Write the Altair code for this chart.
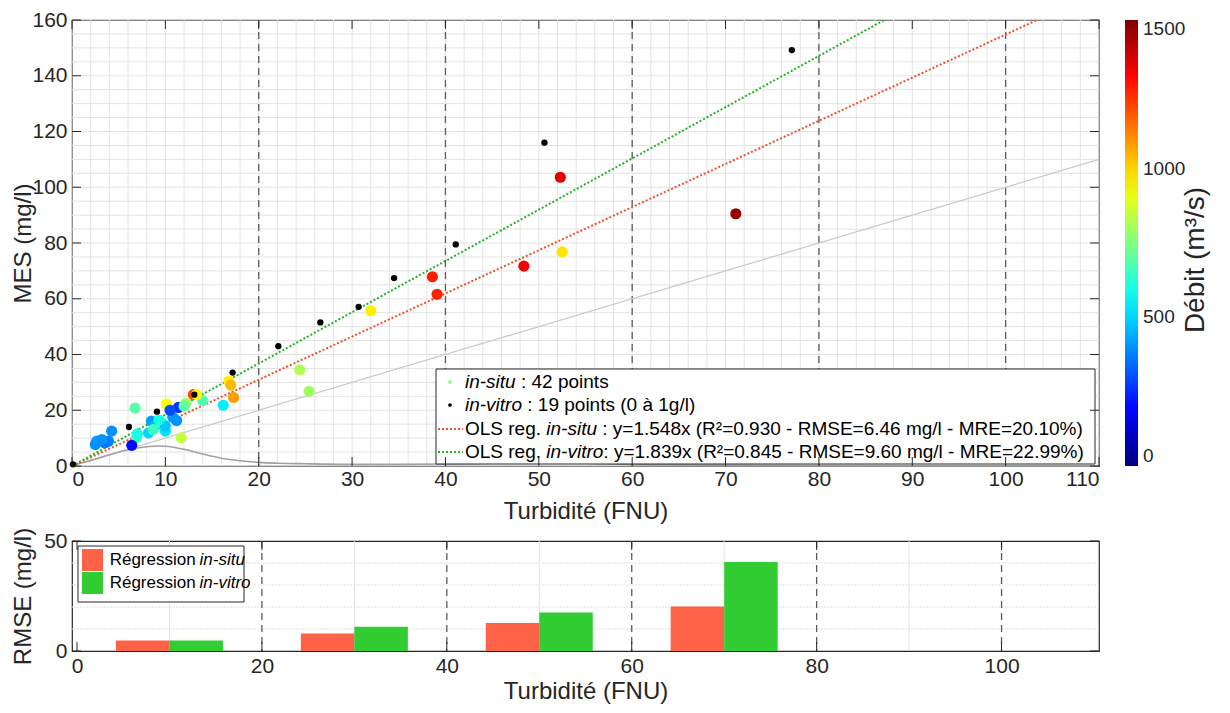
import altair as alt
import pandas as pd

# ---------------- data ----------------
insitu_turb = [24.4, 25.4, 32.0, 38.6, 39.1, 48.4, 52.3, 52.5, 71.1, 16.8,
               17.0, 17.3, 16.2, 14.0, 13.0, 13.35, 12.2, 11.4, 10.8, 11.2,
               11.7, 10.1, 6.75, 8.5, 8.9, 9.6, 10.0, 10.0, 8.2, 8.7,
               6.9, 6.4, 4.25, 3.9, 3.5, 2.65, 2.5, 12.0, 9.3, 10.5,
               3.2, 7.0]
insitu_mes = [34.5, 26.8, 55.7, 67.9, 61.6, 71.7, 103.6, 76.8, 90.5, 30.5,
              29.0, 24.6, 21.8, 23.5, 25.6, 25.6, 22.5, 21.0, 17.5, 16.3,
              10.1, 22.3, 20.8, 16.1, 14.3, 15.5, 12.5, 14.3, 11.9, 13.1,
              10.1, 7.4, 12.5, 8.9, 8.3, 8.9, 7.7, 21.5, 16.5, 20.0,
              9.5, 11.5]
insitu_debit = [820, 800, 960, 1270, 1260, 1330, 1350, 975, 1460, 960,
                1040, 1080, 540, 680, 1200, 950, 800, 260, 420, 400,
                850, 940, 690, 420, 450, 650, 520, 480, 500, 650,
                650, 200, 400, 380, 360, 420, 400, 700, 600, 300,
                400, 600]

invitro_turb = [0.1, 6.1, 9.1, 13.1, 17.2, 22.1, 26.6, 30.7, 34.5, 41.1, 50.6, 77.1]
invitro_mes = [0.6, 14.0, 19.5, 25.6, 33.5, 43.0, 51.5, 57.1, 67.4, 79.5, 116.0, 149.2]

slope_insitu = 1.548
slope_invitro = 1.839
line_turb_ends = [0, 110]

curve_turb = [0, 2, 4, 6, 8, 9, 10, 12, 14, 16, 18, 20, 22, 25, 30, 35, 40,
              45, 50, 55, 60, 70, 80, 90, 100, 110]
curve_val = [0.3, 2.0, 4.0, 5.8, 6.9, 7.2, 7.1, 6.0, 4.3, 2.8, 1.9, 1.3, 1.0,
             0.8, 0.6, 0.6, 0.7, 1.0, 1.4, 1.0, 0.5, 0.3, 0.2, 0.1, 0.1, 0.1]

rmse_bin_center = [10, 30, 50, 70]
rmse_insitu = [4.8, 7.9, 12.7, 20.2]
rmse_invitro = [4.8, 11.0, 17.5, 40.4]

x_ticks_top = [0, 10, 20, 30, 40, 50, 60, 70, 80, 90, 100, 110]
y_ticks_top = [0, 20, 40, 60, 80, 100, 120, 140, 160]
x_minor_top = list(range(0, 111, 2))
y_minor_top = list(range(0, 161, 5))
x_major_dashed = [20, 40, 60, 80, 100]
x_ticks_bot = [0, 20, 40, 60, 80, 100]
y_ticks_bot = [0, 50]
x_minor_bot = [10, 30, 50, 70, 90]
y_minor_bot = [10, 20, 30, 40]
debit_ticks = [0, 500, 1000, 1500]

jet_stops = [0, 187.5, 562.5, 750, 937.5, 1312.5, 1500]
jet_colors = ["#00007F", "#0000FF", "#00FFFF", "#7FFF7F", "#FFFF00", "#FF0000", "#7F0000"]

legend_rows_top = [
    [("in-situ", "italic"), (" : 42 points", "normal")],
    [("in-vitro", "italic"), (" : 19 points (0 à 1g/l)", "normal")],
    [("OLS reg. ", "normal"), ("in-situ", "italic"),
     (" : y=1.548x (R²=0.930 - RMSE=6.46 mg/l - MRE=20.10%)", "normal")],
    [("OLS reg. ", "normal"), ("in-vitro", "italic"),
     (": y=1.839x (R²=0.845 - RMSE=9.60 mg/l - MRE=22.99%)", "normal")],
]
legend_rows_bot = [
    [("Régression ", "normal"), ("in-situ", "italic")],
    [("Régression ", "normal"), ("in-vitro", "italic")],
]

# ---------------- helpers ----------------
FONT = "Liberation Sans"
INK = "#262626"
W, H = 1027, 446
H2 = 110
SPACING = 75
XMAX, YMAX, YMAX2 = 110.0, 160.0, 50.0

ARIAL = {' ': 278, '!': 278, '%': 889, '(': 333, ')': 333, '-': 333, '.': 278,
         '/': 278, ':': 278, '=': 584, '²': 333, '³': 333, 'à': 556, 'é': 556}
for c in "0123456789":
    ARIAL[c] = 556
ARIAL.update({'A': 667, 'B': 667, 'C': 722, 'D': 722, 'E': 667, 'F': 611, 'G': 778,
              'H': 722, 'I': 278, 'L': 556, 'M': 833, 'N': 722, 'O': 778, 'P': 667,
              'R': 722, 'S': 667, 'T': 611, 'U': 722, 'a': 556, 'b': 556, 'c': 500,
              'd': 556, 'e': 556, 'f': 278, 'g': 556, 'h': 556, 'i': 222, 'j': 222,
              'k': 500, 'l': 222, 'm': 833, 'n': 556, 'o': 556, 'p': 556, 'q': 556,
              'r': 333, 's': 500, 't': 278, 'u': 556, 'v': 500, 'w': 722, 'x': 500,
              'y': 500, 'z': 500})


def tw(s, size):
    return sum(ARIAL.get(c, 556) for c in s) * size / 1000.0


def legend_pieces(rows, x0, ys, size, h, ymax):
    """Text pieces placed in pixels, converted to the panel's data units."""
    recs = []
    for row, yy in zip(rows, ys):
        cur = x0
        for txt, style in row:
            lead = len(txt) - len(txt.lstrip(" "))
            px = cur + tw(txt[:lead], size)
            recs.append({"xd": px * XMAX / W, "yd": ymax - yy * ymax / h,
                         "t": txt.strip(" "), "style": style})
            cur += tw(txt, size)
    return pd.DataFrame(recs)


one = pd.DataFrame({"k": [0]})
xs = alt.Scale(domain=[0, XMAX], nice=False, zero=False)
ys = alt.Scale(domain=[0, YMAX], nice=False, zero=False)
ys2 = alt.Scale(domain=[0, YMAX2], nice=False, zero=False)

AX_X = alt.Axis(values=x_ticks_top, title="Turbidité (FNU)", labelPadding=2, titlePadding=10)
AX_Y = alt.Axis(values=y_ticks_top, title="MES (mg/l)", labelPadding=5, titleX=-37)
AX_X2 = alt.Axis(values=x_ticks_bot, title="Turbidité (FNU)", labelPadding=4, titlePadding=3)
AX_Y2 = alt.Axis(values=y_ticks_bot, title="RMSE (mg/l)", labelPadding=5, titleX=-37)


def X(field):
    return alt.X(field, scale=xs, axis=AX_X)


def Y(field):
    return alt.Y(field, scale=ys, axis=AX_Y)


def X2(field):
    return alt.X(field, scale=xs, axis=AX_X2)


def Y2(field):
    return alt.Y(field, scale=ys2, axis=AX_Y2)


# ---------------- top panel ----------------
grid_x = alt.Chart(pd.DataFrame({"v": x_minor_top})).mark_rule(
    color="#E3E3E3", strokeWidth=1).encode(x=X("v:Q"))
grid_y = alt.Chart(pd.DataFrame({"v": y_minor_top})).mark_rule(
    color="#E3E3E3", strokeWidth=1).encode(y=Y("v:Q"))
dashed = alt.Chart(pd.DataFrame({"v": x_major_dashed})).mark_rule(
    color="#5A5A5A", strokeWidth=1.3, strokeDash=[7, 5]).encode(x=X("v:Q"))

ends = pd.DataFrame({"turb": line_turb_ends})
one_to_one = alt.Chart(ends).mark_line(color="#C8C8C8", strokeWidth=1.2, clip=True).encode(
    x=X("turb:Q"), y=Y("turb:Q"))
curve = alt.Chart(pd.DataFrame({"turb": curve_turb, "val": curve_val})).mark_line(
    color="#A0A0A0", strokeWidth=1.6, interpolate="monotone").encode(
    x=X("turb:Q"), y=Y("val:Q"))
fit_red = alt.Chart(ends).transform_calculate(mes=f"{slope_insitu}*datum.turb").mark_line(
    color="#F0502A", strokeWidth=2, strokeDash=[2, 2], clip=True).encode(
    x=X("turb:Q"), y=Y("mes:Q"))
fit_green = alt.Chart(ends).transform_calculate(mes=f"{slope_invitro}*datum.turb").mark_line(
    color="#22B422", strokeWidth=2, strokeDash=[2, 2], clip=True).encode(
    x=X("turb:Q"), y=Y("mes:Q"))

pts_insitu = alt.Chart(pd.DataFrame({"turb": insitu_turb, "mes": insitu_mes,
                                     "debit": insitu_debit})).mark_circle(
    size=125, opacity=1).encode(
    x=X("turb:Q"), y=Y("mes:Q"),
    color=alt.Color("debit:Q",
                    scale=alt.Scale(domain=jet_stops, range=jet_colors, interpolate="rgb"),
                    legend=alt.Legend(orient="none", legendX=W + 26, legendY=0,
                                      direction="vertical", gradientLength=H,
                                      gradientThickness=13, values=debit_ticks,
                                      format="d", title=None, labelFontSize=19,
                                      labelFont=FONT, labelColor=INK, labelOffset=5,
                                      labelBaseline="middle",
                                      gradientStrokeWidth=0)))
pts_invitro = alt.Chart(pd.DataFrame({"turb": invitro_turb, "mes": invitro_mes})).mark_circle(
    size=40, color="black", opacity=1).encode(x=X("turb:Q"), y=Y("mes:Q"))

tick_x_top_df = pd.DataFrame({"v": x_ticks_top})
tick_y_top_df = pd.DataFrame({"v": y_ticks_top})
ticks_top = [
    alt.Chart(tick_x_top_df).mark_rule(color=INK).encode(
        x=X("v:Q"), y=alt.value(H), y2=alt.value(H - 9)),
    alt.Chart(tick_x_top_df).mark_rule(color=INK).encode(
        x=X("v:Q"), y=alt.value(0), y2=alt.value(9)),
    alt.Chart(tick_y_top_df).mark_rule(color=INK).encode(
        y=Y("v:Q"), x=alt.value(0), x2=alt.value(9)),
    alt.Chart(tick_y_top_df).mark_rule(color=INK).encode(
        y=Y("v:Q"), x=alt.value(W), x2=alt.value(W - 9)),
]

# manual legend of the top panel
LG_FS = 19
rows_y = [H - 84, H - 61, H - 37, H - 14]
leg_box = alt.Chart(one).mark_rect(fill="white", stroke=INK, strokeWidth=1).encode(
    x=alt.value(364), x2=alt.value(1023), y=alt.value(H - 97), y2=alt.value(H - 2))
leg_dot1 = alt.Chart(one).mark_circle(size=14, color="#7FFF7F", opacity=1).encode(
    x=alt.value(378), y=alt.value(rows_y[0]))
leg_dot2 = alt.Chart(one).mark_circle(size=14, color="black", opacity=1).encode(
    x=alt.value(378), y=alt.value(rows_y[1]))
leg_l1 = alt.Chart(one).mark_rule(color="#F0502A", strokeWidth=2, strokeDash=[2, 2]).encode(
    x=alt.value(366), x2=alt.value(391), y=alt.value(rows_y[2]))
leg_l2 = alt.Chart(one).mark_rule(color="#22B422", strokeWidth=2, strokeDash=[2, 2]).encode(
    x=alt.value(366), x2=alt.value(391), y=alt.value(rows_y[3]))
top_pieces = legend_pieces(legend_rows_top, 393, rows_y, LG_FS, H, YMAX)
leg_txt_n = alt.Chart(top_pieces[top_pieces["style"] == "normal"]).mark_text(
    align="left", baseline="middle", font=FONT, fontSize=LG_FS, color="black").encode(
    x=X("xd:Q"), y=Y("yd:Q"), text="t:N")
leg_txt_i = alt.Chart(top_pieces[top_pieces["style"] == "italic"]).mark_text(
    align="left", baseline="middle", font=FONT, fontSize=LG_FS, fontStyle="italic",
    color="black").encode(x=X("xd:Q"), y=Y("yd:Q"), text="t:N")

cbar_title = alt.Chart(pd.DataFrame({"t": ["Débit (m³/s)"]})).mark_text(
    angle=270, align="center", baseline="middle", font=FONT, fontSize=28, color=INK).encode(
    text="t:N", x=alt.value(W + 97), y=alt.value(240))

top = alt.layer(grid_x, grid_y, dashed, one_to_one, curve, fit_red, fit_green,
                pts_insitu, pts_invitro, leg_box, leg_dot1, leg_dot2, leg_l1, leg_l2,
                leg_txt_n, leg_txt_i, *ticks_top, cbar_title).properties(width=W, height=H)

# ---------------- bottom panel ----------------
grid_x2 = alt.Chart(pd.DataFrame({"v": x_minor_bot})).mark_rule(
    color="#E3E3E3", strokeWidth=1).encode(x=X2("v:Q"))
grid_y2 = alt.Chart(pd.DataFrame({"v": y_minor_bot})).mark_rule(
    color="#E0E0E0", strokeWidth=1, strokeDash=[2, 1]).encode(y=Y2("v:Q"))
dashed2 = alt.Chart(pd.DataFrame({"v": x_major_dashed})).mark_rule(
    color="#5A5A5A", strokeWidth=1.3, strokeDash=[7, 5]).encode(x=X2("v:Q"))
bars_df = pd.DataFrame({"c": rmse_bin_center, "ins": rmse_insitu, "inv": rmse_invitro})
bar_w = 53.5
bars_red = alt.Chart(bars_df).mark_bar(size=bar_w, xOffset=-bar_w / 2, color="#FF6347").encode(
    x=X2("c:Q"), y=Y2("ins:Q"))
bars_green = alt.Chart(bars_df).mark_bar(size=bar_w, xOffset=bar_w / 2, color="#32CD32").encode(
    x=X2("c:Q"), y=Y2("inv:Q"))

tick_x_bot_df = pd.DataFrame({"v": x_ticks_bot})
tick_y_bot_df = pd.DataFrame({"v": y_ticks_bot})
ticks_bot = [
    alt.Chart(tick_x_bot_df).mark_rule(color=INK).encode(
        x=X2("v:Q"), y=alt.value(H2), y2=alt.value(H2 - 9)),
    alt.Chart(tick_x_bot_df).mark_rule(color=INK).encode(
        x=X2("v:Q"), y=alt.value(0), y2=alt.value(9)),
    alt.Chart(tick_y_bot_df).mark_rule(color=INK).encode(
        y=Y2("v:Q"), x=alt.value(0), x2=alt.value(9)),
    alt.Chart(tick_y_bot_df).mark_rule(color=INK).encode(
        y=Y2("v:Q"), x=alt.value(W), x2=alt.value(W - 9)),
]

LG2_FS = 17
rows_y2 = [19, 42]
leg2_box = alt.Chart(one).mark_rect(fill="white", stroke=INK, strokeWidth=1).encode(
    x=alt.value(6), x2=alt.value(172), y=alt.value(5), y2=alt.value(61))
leg2_red = alt.Chart(one).mark_rect(color="#FF6347").encode(
    x=alt.value(10), x2=alt.value(31), y=alt.value(8), y2=alt.value(30))
leg2_green = alt.Chart(one).mark_rect(color="#32CD32").encode(
    x=alt.value(10), x2=alt.value(31), y=alt.value(31), y2=alt.value(53))
bot_pieces = legend_pieces(legend_rows_bot, 33, rows_y2, LG2_FS, H2, YMAX2)
leg2_txt_n = alt.Chart(bot_pieces[bot_pieces["style"] == "normal"]).mark_text(
    align="left", baseline="middle", font=FONT, fontSize=LG2_FS, color="black").encode(
    x=X2("xd:Q"), y=Y2("yd:Q"), text="t:N")
leg2_txt_i = alt.Chart(bot_pieces[bot_pieces["style"] == "italic"]).mark_text(
    align="left", baseline="middle", font=FONT, fontSize=LG2_FS, fontStyle="italic",
    color="black").encode(x=X2("xd:Q"), y=Y2("yd:Q"), text="t:N")

bottom = alt.layer(grid_x2, grid_y2, dashed2, bars_red, bars_green, *ticks_bot,
                   leg2_box, leg2_red, leg2_green, leg2_txt_n, leg2_txt_i).properties(
    width=W, height=H2)

chart = alt.vconcat(top, bottom, spacing=SPACING, bounds="flush").properties(
    padding={"left": 2, "top": 0, "right": 0, "bottom": 0},
    background="white",
).configure_view(
    stroke=INK, strokeWidth=1.2
).configure_axis(
    labelFont=FONT, titleFont=FONT, labelFontSize=21, titleFontSize=24,
    titleFontWeight="normal", labelColor=INK, titleColor=INK,
    domain=False, ticks=False, tickSize=0, grid=False
)

chart.save("out.html", embed_options={"renderer": "svg", "actions": False})
